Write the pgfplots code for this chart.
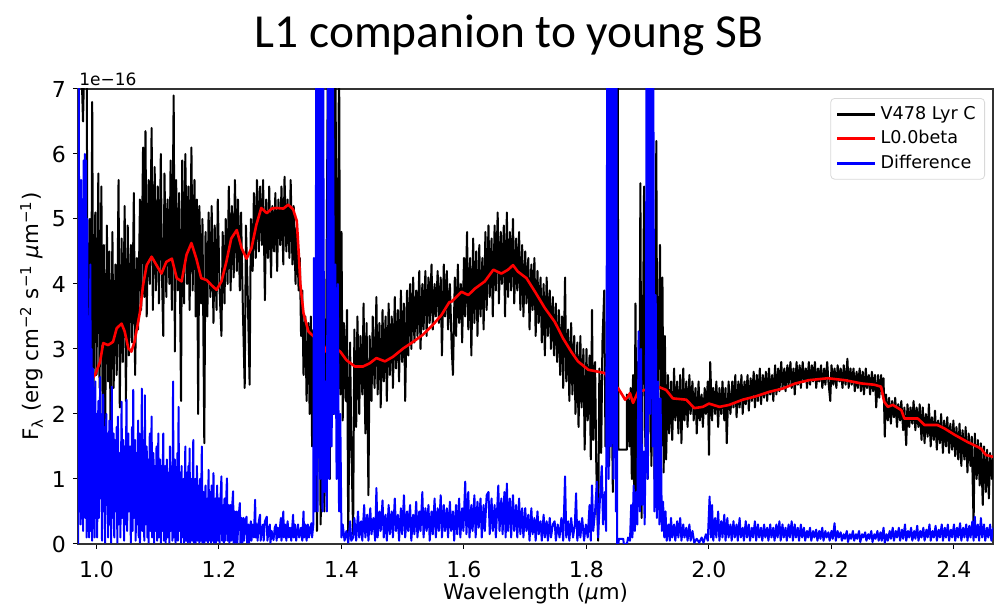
\documentclass[border=0pt]{standalone}
\usepackage{fontspec}
\setmainfont{DejaVu Sans}
\newfontfamily\titlefont{Carlito}
\usepackage{pgfplots}
\pgfplotsset{compat=1.18}
\definecolor{mplblue}{rgb}{0,0,1}
\definecolor{mplred}{rgb}{1,0,0}
\begin{document}
\begin{tikzpicture}
\path[use as bounding box] (-39pt,-32.5pt) rectangle (465pt,272pt);
\begin{axis}[
  at={(0pt,0pt)}, anchor=south west,
  scale only axis, width=457.5pt, height=227.5pt,
  xmin=0.9698, xmax=2.4637, ymin=0, ymax=7,
  xtick={1.0,1.2,1.4,1.6,1.8,2.0,2.2,2.4},
  xticklabels={1.0,1.2,1.4,1.6,1.8,2.0,2.2,2.4},
  ytick={0,1,2,3,4,5,6,7},
  yticklabels={0,1,2,3,4,5,6,7},
  tick pos=left, tick align=outside,
  major tick length=2.5pt,
  tick style={black, line width=0.5pt},
  axis line style={black!80, line width=0.55pt},
  tick label style={font=\fontsize{11}{13}\selectfont},
  xticklabel style={yshift=-2.7pt},
  /pgf/number format/assume math mode=true,
  legend style={at={(0.9913,0.9802)}, anchor=north east, draw=black!15,
    rounded corners=2pt, fill=white, font=\fontsize{8.8}{10.5}\selectfont,
    inner xsep=2.5pt, inner ysep=2pt},
  legend cell align=left,
  legend image code/.code={\draw[#1, line width=1.5pt] (0pt,0pt) -- (19pt,0pt);},
  every axis plot/.append style={line join=round},
]
% V478 Lyr C
\addplot[black, line width=1pt] coordinates {
(0.970,7.8) (0.974,7.8) (0.978,6.5) (0.981,7.8) (0.984,7.8) (0.985,4.3) (0.986,1.8) (0.989,5.0) (0.991,2.3) (0.993,6.8) (0.995,2.2) (0.998,5.1) (1.000,2.6) (1.003,5.7) (1.005,2.4) (1.008,5.5) (1.010,2.0) (1.012,4.6) (1.014,1.6) (1.017,4.9) (1.019,2.5)
(1.021,4.5) (1.023,1.6) (1.026,4.8) (1.028,2.4) (1.031,4.3) (1.033,2.6) (1.036,5.6) (1.038,2.1) (1.041,4.7) (1.043,2.8) (1.046,5.2) (1.048,2.2) (1.051,4.9) (1.053,2.9) (1.056,4.6) (1.058,3.1) (1.061,5.4) (1.063,2.6) (1.066,4.4) (1.068,3.3) (1.071,5.3) (1.073,3.6)
(1.076,6.1) (1.078,3.8) (1.080,6.35) (1.082,3.5) (1.085,5.6) (1.087,4.0) (1.090,6.4) (1.092,3.6) (1.095,5.8) (1.097,3.9) (1.100,5.5) (1.102,3.7) (1.105,6.0) (1.107,4.1) (1.109,3.2) (1.111,5.7) (1.114,3.8) (1.116,5.3) (1.119,4.0) (1.121,5.9) (1.123,3.6) (1.126,6.9) (1.128,2.96) (1.130,5.6)
(1.133,3.9) (1.135,5.4) (1.138,2.2) (1.140,5.9) (1.143,3.7) (1.145,6.0) (1.148,4.0) (1.150,5.5) (1.152,3.6) (1.155,6.1) (1.157,3.9) (1.160,5.6) (1.162,3.5) (1.164,5.3) (1.166,2.0) (1.168,5.2) (1.171,3.7) (1.173,5.0) (1.176,1.55) (1.178,4.8) (1.181,3.5) (1.183,5.1)
(1.186,3.8) (1.188,5.2) (1.191,3.4) (1.193,4.9) (1.196,3.6) (1.198,5.3) (1.201,3.9) (1.204,3.2) (1.206,4.8) (1.209,3.7) (1.211,5.0) (1.214,4.0) (1.216,5.5) (1.219,3.9) (1.221,5.2) (1.224,4.1) (1.226,5.6) (1.229,4.2) (1.231,5.3) (1.234,3.9) (1.236,5.1) (1.239,3.6) (1.242,2.4) (1.244,4.9) (1.247,3.8) (1.250,2.45) (1.252,5.0) (1.255,4.2) (1.257,5.4) (1.260,4.4) (1.262,5.6) (1.265,4.5) (1.267,5.5)
(1.270,4.6) (1.272,5.6) (1.275,3.75) (1.277,5.3) (1.280,4.4) (1.282,5.5) (1.285,4.1) (1.287,5.2) (1.290,4.5) (1.292,5.4) (1.295,4.2) (1.297,5.3) (1.300,4.6) (1.302,5.5) (1.305,4.3) (1.307,5.65) (1.310,4.5) (1.312,5.3) (1.315,4.4) (1.317,5.6) (1.320,4.3) (1.322,5.2) (1.325,4.0) (1.327,4.9)
(1.330,3.9) (1.332,4.4) (1.334,3.2) (1.336,3.9) (1.338,2.6) (1.341,3.5) (1.343,2.2) (1.346,3.4) (1.348,2.0) (1.350,3.5) (1.352,1.5) (1.354,3.3) (1.356,0.8)
(1.358,2.8) (1.360,0.2) (1.363,3.5) (1.366,0.3) (1.369,3.0) (1.372,0.5) (1.375,3.3) (1.378,7.8) (1.381,1.0) (1.384,7.8) (1.387,2.0) (1.390,7.8) (1.393,1.5) (1.396,7.8) (1.398,2.3) (1.400,4.8)
(1.402,1.9) (1.404,3.4) (1.407,2.2) (1.409,3.6) (1.411,0.05) (1.414,3.1) (1.416,1.6) (1.419,0.15) (1.421,3.3) (1.424,1.8) (1.426,3.5) (1.429,2.0) (1.431,3.2) (1.434,2.3) (1.436,3.7) (1.439,1.7) (1.441,3.4) (1.444,0.75) (1.446,3.2)
(1.449,2.2) (1.451,3.5) (1.454,2.4) (1.457,3.8) (1.459,2.3) (1.462,3.4) (1.464,2.1) (1.467,3.6) (1.469,2.5) (1.472,3.5) (1.474,2.2) (1.477,3.7) (1.479,2.6) (1.482,3.5) (1.484,2.4) (1.487,3.8) (1.489,2.7) (1.492,3.6) (1.494,2.5) (1.497,3.9) (1.499,2.8) (1.502,3.7) (1.504,2.2) (1.507,3.9) (1.509,2.9)
(1.512,4.0) (1.514,3.0) (1.517,4.1) (1.519,3.1) (1.522,3.9) (1.524,3.2) (1.527,4.2) (1.529,3.0) (1.532,4.0) (1.534,3.3) (1.537,4.2) (1.539,3.2) (1.542,4.1) (1.544,3.4) (1.547,4.3) (1.549,3.3) (1.552,4.0) (1.554,3.5) (1.557,4.2) (1.559,3.4) (1.562,4.1) (1.564,2.9) (1.567,4.3) (1.569,3.5)
(1.572,4.2) (1.574,3.3) (1.577,4.0) (1.580,3.0) (1.582,2.6) (1.585,4.1) (1.587,3.2) (1.590,4.3) (1.592,3.4) (1.595,4.0) (1.597,3.1) (1.600,4.4)
(1.602,3.5) (1.605,4.8) (1.607,3.3) (1.610,4.4) (1.612,2.9) (1.615,4.7) (1.617,3.4) (1.620,4.5) (1.622,3.2) (1.625,4.6) (1.627,3.5) (1.630,4.4) (1.632,3.3)
(1.635,4.8) (1.637,3.6) (1.640,4.9) (1.642,3.8) (1.645,4.7) (1.647,3.5) (1.650,4.9) (1.652,3.9) (1.655,5.1) (1.657,3.7) (1.660,4.8) (1.662,4.0) (1.665,4.9) (1.667,3.5) (1.670,5.1) (1.672,3.8) (1.675,4.8) (1.677,3.9) (1.680,5.0) (1.682,3.7) (1.685,4.7) (1.687,3.9) (1.690,4.8) (1.692,3.6)
(1.695,4.6) (1.697,3.5) (1.700,4.5) (1.702,3.7) (1.705,4.4) (1.707,3.3) (1.710,4.3) (1.712,3.6) (1.715,4.4) (1.717,3.2) (1.720,4.2) (1.722,3.4) (1.725,4.1) (1.727,3.1) (1.730,4.0) (1.732,2.9) (1.735,4.1) (1.737,3.2) (1.740,3.9) (1.742,3.0) (1.745,3.8) (1.747,2.9)
(1.750,3.7) (1.752,2.8) (1.755,3.6) (1.757,2.6) (1.760,3.5) (1.762,2.4) (1.765,4.1) (1.767,2.5) (1.770,3.3) (1.772,2.2) (1.775,3.4) (1.777,2.3) (1.780,3.2) (1.782,2.0) (1.785,3.1) (1.787,1.8) (1.790,3.2) (1.792,2.1) (1.795,3.0) (1.797,1.45)
(1.800,3.0) (1.802,1.9) (1.805,2.9) (1.807,1.3) (1.809,3.6) (1.811,1.6) (1.814,2.8) (1.816,1.2) (1.819,0.05) (1.821,2.7) (1.824,1.4) (1.826,3.1) (1.829,3.9) (1.831,1.5)
(1.834,3.0) (1.837,1.2) (1.840,3.5) (1.843,0.8) (1.846,7.8) (1.849,7.8) (1.851,7.8) (1.852,1.45) (1.866,1.45) (1.866,2.3)
(1.868,2.2) (1.870,1.5) (1.872,2.4) (1.874,1.0) (1.876,2.6) (1.878,0.5) (1.880,3.7) (1.882,0.5) (1.884,2.8) (1.886,1.0) (1.888,5.55) (1.890,0.4) (1.892,3.0) (1.894,5.5) (1.896,1.5) (1.898,4.0) (1.900,1.0) (1.903,3.5) (1.906,1.2) (1.909,4.5) (1.911,1.0) (1.914,6.2) (1.916,1.1) (1.918,3.3) (1.920,4.6) (1.922,1.5) (1.924,4.1) (1.926,1.1) (1.928,3.2) (1.930,1.3)
(1.933,2.6) (1.935,1.7) (1.938,2.5) (1.940,1.6) (1.943,2.7) (1.945,1.9) (1.948,2.5) (1.950,1.7) (1.953,2.6) (1.955,1.55) (1.958,2.7) (1.960,1.9) (1.963,2.5) (1.965,1.8) (1.968,2.6) (1.970,2.0) (1.973,2.5)
(1.975,1.9) (1.978,2.4) (1.980,1.7) (1.983,2.5) (1.985,1.9) (1.988,2.3) (1.990,1.8) (1.993,2.4) (1.995,2.0) (1.998,2.5) (2.000,1.37) (2.002,2.8) (2.005,1.9) (2.007,2.4) (2.010,2.0) (2.012,2.5) (2.015,1.8) (2.017,2.4) (2.020,2.0) (2.022,2.5) (2.025,1.9) (2.027,2.4) (2.029,1.55) (2.032,2.5)
(2.035,2.0) (2.038,2.5) (2.040,2.1) (2.043,2.6) (2.045,1.95) (2.048,2.5) (2.050,2.1) (2.053,2.6) (2.055,2.0) (2.058,2.5) (2.060,2.15) (2.063,2.6) (2.065,2.05) (2.068,2.55) (2.070,2.2) (2.073,2.65) (2.075,2.1) (2.078,2.6) (2.080,2.2) (2.083,2.7) (2.085,2.15) (2.088,2.6) (2.090,2.25) (2.093,2.65) (2.095,2.2) (2.098,2.7) (2.100,2.3) (2.103,2.6) (2.105,2.2) (2.108,2.75) (2.110,2.3) (2.113,2.7)
(2.115,2.35) (2.118,2.8) (2.120,2.4) (2.123,2.7) (2.125,2.35) (2.128,2.75) (2.130,2.45) (2.133,2.8) (2.135,2.4) (2.138,2.7) (2.140,2.3) (2.143,2.8) (2.145,2.45) (2.148,2.75) (2.150,2.4) (2.153,2.8) (2.155,2.5) (2.158,2.7) (2.160,2.4) (2.163,2.8) (2.165,2.45) (2.168,2.75) (2.170,2.5) (2.173,2.8) (2.175,2.4) (2.178,2.7) (2.180,2.5) (2.183,2.75) (2.185,2.4) (2.188,2.7) (2.190,2.45) (2.193,2.8) (2.195,2.5) (2.198,2.2) (2.200,2.75) (2.203,2.45) (2.205,2.7) (2.208,2.4) (2.210,2.75) (2.213,2.5) (2.215,2.7) (2.218,2.4) (2.220,2.75) (2.223,2.45) (2.226,2.85) (2.228,2.4) (2.231,2.7) (2.233,2.45) (2.236,2.7) (2.238,2.35) (2.241,2.65) (2.243,2.4) (2.246,2.7) (2.248,2.35) (2.251,2.65) (2.253,2.3) (2.256,2.7) (2.258,2.4) (2.261,2.6) (2.263,2.3) (2.266,2.65) (2.268,2.35) (2.271,2.6) (2.273,2.1) (2.276,2.6) (2.278,2.25) (2.281,2.6) (2.283,2.3) (2.285,2.55)
(2.287,1.65) (2.289,2.3) (2.292,1.9) (2.294,2.25) (2.297,1.85) (2.299,2.2) (2.302,1.95) (2.304,2.25) (2.307,1.8) (2.309,2.15) (2.312,1.9) (2.314,2.2) (2.317,1.75) (2.319,2.1) (2.322,1.52) (2.324,2.15) (2.327,1.8) (2.329,2.1) (2.332,1.85) (2.334,2.2) (2.337,1.75) (2.339,2.1) (2.342,1.8) (2.344,2.15)
(2.347,1.6) (2.349,2.1) (2.352,1.55) (2.354,2.0) (2.357,1.65) (2.359,2.15) (2.362,1.5) (2.364,1.95) (2.367,1.6) (2.369,2.05) (2.372,1.45) (2.374,1.9) (2.377,1.55) (2.379,2.0) (2.382,1.4) (2.384,1.9) (2.387,1.5) (2.389,1.95) (2.392,1.4) (2.394,1.85) (2.397,1.45) (2.399,1.9) (2.402,1.35) (2.404,1.8)
(2.407,1.3) (2.409,1.85) (2.412,1.2) (2.414,1.75) (2.417,1.3) (2.419,1.8) (2.422,1.1) (2.424,1.7) (2.427,1.2) (2.429,1.65) (2.432,0.3) (2.434,1.7) (2.437,1.0) (2.439,1.6) (2.442,0.9) (2.444,1.55) (2.447,0.6) (2.449,1.5) (2.452,0.8) (2.454,1.45) (2.457,0.7) (2.459,1.4) (2.462,1.0) (2.464,1.35)
};
\addlegendentry{V478 Lyr C}
% L0.0beta template
\addplot[mplred, line width=1.3pt] coordinates {
(0.993,2.55) (0.9976,2.60) (1.0057,2.80) (1.011,3.09) (1.019,3.06) (1.027,3.11) (1.033,3.32) (1.041,3.39) (1.046,3.27) (1.052,3.01) (1.057,2.96) (1.062,3.11) (1.071,3.57) (1.076,3.98) (1.082,4.29) (1.090,4.42) (1.098,4.29) (1.106,4.16) (1.114,4.34) (1.123,4.39) (1.131,4.09) (1.139,4.04) (1.147,4.45) (1.155,4.63) (1.163,4.39) (1.171,4.09) (1.180,4.06) (1.188,3.98) (1.196,3.91) (1.204,4.04) (1.212,4.34) (1.220,4.70) (1.229,4.83) (1.237,4.55) (1.245,4.39) (1.253,4.55) (1.261,4.91)
(1.269,5.17) (1.278,5.09) (1.286,5.16) (1.294,5.17) (1.305,5.16) (1.313,5.22) (1.321,5.15) (1.327,4.97) (1.330,4.50) (1.333,3.98) (1.338,3.55) (1.346,3.27) (1.357,3.17) (1.365,3.14) (1.373,2.96) (1.378,3.09) (1.398,2.96) (1.408,2.83) (1.422,2.73) (1.435,2.73) (1.446,2.78) (1.457,2.86) (1.471,2.81) (1.484,2.88) (1.501,3.01) (1.517,3.11) (1.533,3.22) (1.549,3.37) (1.563,3.52) (1.576,3.72)
(1.580,3.73) (1.596,3.88) (1.607,3.83) (1.618,3.93) (1.634,4.04) (1.648,4.22) (1.661,4.16) (1.672,4.22) (1.680,4.29) (1.688,4.19) (1.702,4.09) (1.716,3.88) (1.732,3.63) (1.748,3.42) (1.762,3.16) (1.775,2.96) (1.786,2.81) (1.803,2.68) (1.819,2.65) (1.830,2.63) (1.835,2.55) (1.852,2.39) (1.860,2.27) (1.863,2.22) (1.868,2.27) (1.871,2.32) (1.876,2.17) (1.884,2.34)
(1.903,2.39) (1.917,2.42) (1.930,2.37) (1.941,2.24) (1.963,2.22) (1.976,2.09) (1.990,2.11) (2.000,2.16) (2.017,2.11) (2.033,2.14) (2.055,2.22) (2.076,2.27) (2.098,2.34) (2.120,2.39) (2.141,2.47) (2.163,2.52) (2.194,2.55) (2.222,2.52) (2.249,2.47) (2.270,2.45) (2.281,2.42) (2.286,2.19) (2.292,2.11) (2.300,2.14) (2.314,2.06) (2.319,1.93) (2.341,1.93) (2.352,1.83) (2.373,1.83) (2.384,1.78) (2.401,1.68) (2.422,1.57) (2.444,1.47) (2.452,1.37) (2.464,1.34)
};
\addlegendentry{L0.0beta}
% Difference
\addplot[mplblue, line width=1pt] coordinates {
(0.970,0) (0.9702,7.8) (0.9712,7.8) (0.972,0.5) (0.973,5.4) (0.974,0.3) (0.975,5.6) (0.976,0.8) (0.977,5.3) (0.978,0.2) (0.979,5.9) (0.980,1.0) (0.981,6.0) (0.982,0.4) (0.983,5.9) (0.984,0.1) (0.985,5.0) (0.986,0.2) (0.987,3.5) (0.988,0.1) (0.989,3.2) (0.990,4.3) (0.991,0.2) (0.992,3.0) (0.993,0.05) (0.994,2.7) (0.995,0.3) (0.996,2.2) (0.997,0.1) (0.998,2.5) (0.999,0.4)
(1.000,2.0) (1.001,0.1) (1.003,2.2) (1.004,0.4) (1.006,2.57) (1.007,0.7) (1.008,2.0) (1.009,0.05) (1.011,2.3) (1.012,0.5) (1.013,1.8) (1.014,0.02) (1.016,2.0) (1.017,0.6) (1.018,1.7) (1.019,0.1) (1.021,1.9) (1.022,0.3) (1.023,1.5) (1.024,0.02) (1.025,2.42) (1.026,0.4) (1.028,1.7) (1.029,0.1) (1.030,1.6) (1.031,0.5) (1.033,1.8) (1.034,0.02) (1.035,1.96) (1.036,0.3) (1.038,1.4) (1.039,0.1) (1.041,2.19) (1.042,0.4) (1.044,1.6) (1.045,0.05) (1.046,1.5) (1.047,0.3) (1.049,2.22)
(1.050,0.2) (1.052,1.7) (1.053,0.5) (1.055,1.5) (1.056,0.02) (1.058,1.8) (1.059,0.2) (1.060,2.37) (1.061,0.4) (1.063,1.6) (1.064,0.05) (1.065,1.4) (1.066,0.3) (1.068,1.9) (1.069,0.1) (1.070,1.7) (1.071,0.02) (1.072,1.5) (1.073,0.3) (1.074,2.39) (1.075,0.2) (1.077,1.6) (1.078,0.05) (1.079,2.29) (1.080,0.3) (1.082,1.5) (1.083,0.1) (1.084,1.3) (1.085,0.02) (1.087,1.7) (1.088,0.2) (1.090,1.96) (1.091,0.1) (1.093,1.4) (1.094,0.02) (1.095,1.2) (1.096,0.2) (1.098,1.5) (1.099,0.05)
(1.101,1.70) (1.102,0.1) (1.104,1.3) (1.105,0.02) (1.106,1.2) (1.107,0.2) (1.109,1.70) (1.110,0.05) (1.112,1.2) (1.113,0.02) (1.115,1.3) (1.116,0.1) (1.118,1.1) (1.119,0.02) (1.120,1.5) (1.121,0.2) (1.123,1.2) (1.124,0.05) (1.125,2.50) (1.126,0.1) (1.128,1.3) (1.129,0.02) (1.130,1.1) (1.131,0.1) (1.132,1.4) (1.133,0.05) (1.134,2.11) (1.135,0.2) (1.137,1.1) (1.138,0.02) (1.139,1.2) (1.140,0.1) (1.142,1.0) (1.143,0.02) (1.145,1.50) (1.146,0.05) (1.148,1.1) (1.149,0.02)
(1.150,1.2) (1.151,0.1) (1.152,1.47) (1.153,0.02) (1.155,1.0) (1.156,0.05) (1.158,1.6) (1.159,0.02) (1.161,1.0) (1.162,0.02) (1.164,1.2) (1.165,0.05) (1.167,0.9) (1.168,0.02) (1.169,1.0) (1.170,0.05) (1.172,1.50) (1.173,0.02) (1.175,0.8) (1.176,0.02) (1.178,0.9) (1.179,0.05) (1.181,0.7) (1.182,0.02) (1.183,1.14) (1.184,0.05) (1.186,0.8) (1.187,0.02) (1.188,0.9) (1.189,0.05) (1.191,1.09) (1.192,0.02) (1.194,0.7) (1.195,0.02) (1.197,0.9) (1.198,0.05)
(1.200,0.7) (1.201,0.02) (1.202,0.6) (1.204,1.04) (1.205,0.05) (1.207,0.6) (1.208,0.02) (1.209,0.7) (1.210,0.05) (1.211,0.5) (1.213,1.01) (1.214,0.05) (1.216,0.6) (1.217,0.02) (1.219,0.6) (1.220,0.05) (1.221,0.5) (1.223,0.81) (1.224,0.02) (1.226,0.5) (1.227,0.02) (1.229,0.5) (1.230,0.02) (1.232,0.4) (1.234,0.63) (1.235,0.02) (1.237,0.4) (1.238,0.02) (1.240,0.4) (1.241,0.05) (1.243,0.35) (1.245,0.42) (1.246,0.02) (1.248,0.3) (1.249,0.02)
(1.252,0.35) (1.253,0.05) (1.255,0.3) (1.257,0.1) (1.259,0.68) (1.260,0.1) (1.262,0.3) (1.263,0.05) (1.265,0.35) (1.267,0.45) (1.268,0.05) (1.270,0.2) (1.272,0.3) (1.273,0.05) (1.275,0.35) (1.278,0.42) (1.279,0.05) (1.281,0.2) (1.283,0.3) (1.284,0.02) (1.286,0.2) (1.289,0.06) (1.291,0.25) (1.293,0.3) (1.294,0.05) (1.296,0.25) (1.298,0.1)
(1.301,0.4) (1.302,0.05) (1.305,0.50) (1.306,0.1) (1.308,0.3) (1.310,0.05) (1.312,0.35) (1.314,0.1) (1.316,0.25) (1.318,0.05) (1.321,0.45) (1.322,0.1) (1.324,0.3) (1.326,0.05) (1.329,0.3) (1.331,0.1) (1.334,0.25) (1.336,0.05) (1.338,0.50) (1.339,0.1) (1.341,0.3) (1.343,0.05) (1.345,0.3) (1.347,0.1) (1.349,0.25) (1.351,0.32) (1.352,0.1)
(1.354,0.3) (1.355,4.4) (1.357,0.5) (1.359,7.8) (1.361,0.5) (1.363,7.8) (1.365,1.0) (1.367,7.8) (1.369,0.5) (1.370,7.8) (1.372,0.8) (1.374,2.5) (1.376,0.5) (1.378,7.8) (1.380,1.0) (1.382,7.8) (1.384,1.5) (1.386,7.8) (1.388,2.0) (1.390,4.3) (1.392,1.0) (1.394,4.0) (1.396,0.5) (1.398,2.0) (1.400,0.1)
(1.402,0.3) (1.405,0.05) (1.408,0.2) (1.411,0.02) (1.414,0.35) (1.416,0.05) (1.419,0.1) (1.421,0.4) (1.424,0.05) (1.427,0.5) (1.429,0.1) (1.432,0.35) (1.434,0.05) (1.437,0.6) (1.439,0.1) (1.442,0.45) (1.444,0.05) (1.447,0.55) (1.449,0.15) (1.452,0.4) (1.455,0.05) (1.457,0.86) (1.459,0.1) (1.462,0.5) (1.464,0.2) (1.467,0.67) (1.469,0.1) (1.472,0.45) (1.474,0.05) (1.477,0.6) (1.479,0.15) (1.482,0.5) (1.484,0.1) (1.487,0.7) (1.489,0.2) (1.492,0.45) (1.494,0.05) (1.497,0.55) (1.499,0.15)
(1.502,0.75) (1.504,0.1) (1.507,0.5) (1.509,0.2) (1.512,0.6) (1.514,0.05) (1.517,0.45) (1.519,0.15) (1.522,0.65) (1.524,0.1) (1.527,0.5) (1.529,0.2) (1.532,0.8) (1.534,0.1) (1.537,0.55) (1.539,0.2) (1.542,0.6) (1.544,0.05) (1.547,0.5) (1.549,0.15) (1.552,0.7) (1.554,0.1) (1.557,0.55) (1.559,0.2) (1.562,0.75) (1.564,0.1) (1.567,0.6) (1.569,0.2) (1.572,0.55) (1.574,0.1) (1.577,0.65) (1.579,0.2) (1.582,0.5) (1.584,0.05) (1.587,0.6) (1.589,0.15) (1.592,0.7) (1.594,0.1) (1.597,0.55) (1.599,0.2)
(1.602,0.96) (1.604,0.15) (1.607,0.8) (1.609,0.1) (1.612,0.6) (1.614,0.2) (1.617,0.75) (1.619,0.1) (1.622,0.65) (1.624,0.25) (1.627,0.7) (1.629,0.1) (1.632,0.6) (1.634,0.2) (1.637,0.75) (1.640,0.8) (1.642,0.15) (1.645,0.7) (1.647,0.2) (1.650,0.6) (1.652,0.1) (1.656,0.9) (1.658,0.2) (1.661,0.7) (1.663,0.15) (1.666,0.8) (1.668,0.1) (1.670,0.93) (1.672,0.2) (1.675,0.7) (1.677,0.1) (1.680,0.75) (1.682,0.2) (1.685,0.6) (1.687,0.1) (1.690,0.7) (1.692,0.15) (1.695,0.55) (1.697,0.1)
(1.700,0.55) (1.702,0.2) (1.705,0.45) (1.707,0.05) (1.710,0.55) (1.712,0.15) (1.715,0.4) (1.717,0.05) (1.720,0.5) (1.722,0.15) (1.725,0.35) (1.727,0.05) (1.730,0.45) (1.732,0.1) (1.735,0.35) (1.737,0.05) (1.740,0.4) (1.742,0.1) (1.745,0.3) (1.748,0.35) (1.750,0.05) (1.753,0.3) (1.756,0.1) (1.759,0.4) (1.762,0.05) (1.765,1.04) (1.767,0.1) (1.770,0.35) (1.772,0.05) (1.775,0.4) (1.778,0.1) (1.781,0.3) (1.783,0.78) (1.785,0.05) (1.788,0.35) (1.790,0.1) (1.793,0.4) (1.796,0.05) (1.799,0.3)
(1.802,0.1) (1.805,0.6) (1.807,0.05) (1.809,0.9) (1.811,0.2) (1.814,0.5) (1.817,0.96) (1.819,0.1) (1.822,0.7) (1.825,1.2) (1.827,0.3) (1.830,0.8) (1.832,0.2) (1.834,7.8) (1.836,1.0) (1.838,7.8) (1.840,1.5) (1.842,7.8) (1.844,1.0) (1.846,7.8) (1.848,0.5) (1.849,7.8) (1.850,0.0) (1.852,0.0) (1.853,0.08) (1.860,0.08) (1.861,0.0) (1.866,0.0)
(1.868,0.1) (1.871,0.05) (1.873,0.6) (1.875,0.1) (1.877,0.9) (1.879,0.2) (1.881,0.8) (1.883,0.3) (1.885,3.27) (1.887,0.5) (1.889,3.0) (1.891,0.6) (1.893,1.42) (1.895,0.3) (1.897,2.0) (1.898,7.8) (1.900,1.0) (1.902,7.8) (1.904,2.0) (1.906,7.8) (1.908,1.5) (1.909,7.8) (1.911,0.5) (1.913,3.83) (1.915,0.4) (1.917,2.5) (1.919,0.3) (1.921,2.24) (1.923,0.2) (1.925,0.65) (1.927,0.1) (1.929,0.5)
(1.931,0.05) (1.934,0.3) (1.936,0.05) (1.938,0.4) (1.940,0.1) (1.943,0.3) (1.945,0.05) (1.948,0.35) (1.950,0.1) (1.953,0.4) (1.955,0.05) (1.958,0.3) (1.960,0.1) (1.963,0.25) (1.965,0.05) (1.968,0.3) (1.970,0.05) (1.973,0.2) (1.976,0.02) (1.980,0.08) (1.984,0.02) (1.988,0.1) (1.991,0.02) (1.995,0.15) (1.998,0.05)
(2.001,0.73) (2.003,0.1) (2.005,0.6) (2.007,0.05) (2.010,0.4) (2.012,0.1) (2.015,0.5) (2.017,0.05) (2.020,0.35) (2.022,0.1) (2.025,0.45) (2.027,0.05) (2.030,0.4) (2.032,0.1) (2.035,0.3) (2.037,0.05) (2.040,0.35) (2.042,0.1) (2.045,0.3) (2.047,0.05) (2.050,0.4) (2.052,0.1) (2.055,0.25) (2.057,0.05) (2.060,0.35) (2.062,0.1) (2.065,0.3) (2.067,0.05) (2.070,0.25) (2.072,0.1) (2.075,0.35) (2.077,0.05) (2.080,0.3) (2.082,0.1) (2.085,0.25) (2.087,0.05) (2.090,0.3) (2.092,0.1) (2.095,0.25) (2.097,0.05)
(2.100,0.3) (2.102,0.1) (2.105,0.25) (2.107,0.05) (2.110,0.3) (2.112,0.1) (2.115,0.35) (2.117,0.05) (2.120,0.3) (2.122,0.1) (2.125,0.25) (2.127,0.05) (2.130,0.3) (2.132,0.1) (2.135,0.35) (2.137,0.05) (2.140,0.3) (2.142,0.1) (2.145,0.25) (2.147,0.05) (2.150,0.3) (2.152,0.1) (2.155,0.25) (2.157,0.05) (2.160,0.2) (2.162,0.1) (2.165,0.25) (2.167,0.05) (2.170,0.2) (2.172,0.1) (2.175,0.22) (2.177,0.05) (2.180,0.2) (2.182,0.08) (2.185,0.25) (2.187,0.05) (2.190,0.2) (2.192,0.1) (2.195,0.18) (2.197,0.05)
(2.200,0.2) (2.202,0.08) (2.205,0.32) (2.207,0.05) (2.210,0.2) (2.212,0.1) (2.215,0.18) (2.217,0.05) (2.220,0.15) (2.222,0.08) (2.225,0.2) (2.227,0.03) (2.230,0.15) (2.232,0.08) (2.235,0.2) (2.237,0.05) (2.240,0.15) (2.242,0.08) (2.245,0.2) (2.247,0.03) (2.250,0.15) (2.252,0.1) (2.255,0.18) (2.257,0.05) (2.260,0.15) (2.262,0.08) (2.265,0.2) (2.267,0.03) (2.270,0.15) (2.272,0.08) (2.275,0.2) (2.277,0.05) (2.280,0.18) (2.282,0.05) (2.285,0.25) (2.287,0.02) (2.290,0.15) (2.292,0.05) (2.295,0.2) (2.297,0.08)
(2.300,0.25) (2.302,0.05) (2.305,0.2) (2.307,0.1) (2.310,0.25) (2.312,0.05) (2.315,0.22) (2.317,0.08) (2.320,0.3) (2.322,0.05) (2.325,0.2) (2.327,0.1) (2.330,0.25) (2.332,0.05) (2.335,0.2) (2.337,0.08) (2.340,0.28) (2.342,0.05) (2.345,0.2) (2.347,0.1) (2.350,0.25) (2.352,0.05) (2.355,0.22) (2.357,0.1) (2.360,0.3) (2.362,0.05) (2.365,0.2) (2.367,0.1) (2.370,0.28) (2.372,0.05) (2.375,0.22) (2.377,0.1) (2.380,0.3) (2.382,0.05) (2.385,0.25) (2.387,0.1) (2.390,0.3) (2.392,0.05) (2.395,0.22) (2.397,0.1)
(2.400,0.3) (2.402,0.05) (2.405,0.25) (2.407,0.1) (2.410,0.32) (2.412,0.05) (2.415,0.25) (2.417,0.1) (2.420,0.3) (2.422,0.05) (2.425,0.28) (2.427,0.1) (2.430,0.35) (2.432,0.05) (2.434,0.42) (2.436,0.1) (2.439,0.3) (2.441,0.05) (2.444,0.4) (2.446,0.1) (2.449,0.3) (2.451,0.05) (2.454,0.25) (2.456,0.1) (2.459,0.3) (2.461,0.05) (2.464,0.25)
};
\addlegendentry{Difference}
\end{axis}
\node[anchor=base, inner sep=0pt, font=\titlefont\fontsize{23.7}{28}\selectfont] at (215.5pt,248pt) {L1 companion to young SB};
\node[anchor=base, rotate=90, inner sep=0pt, font=\fontsize{10.7}{13}\selectfont] at (-19.5pt,113.75pt) {F\textsubscript{λ} (erg cm\textsuperscript{−2} s\textsuperscript{−1} \textit{μ}m\textsuperscript{−1})};
\node[anchor=base, inner sep=0pt, font=\fontsize{10.7}{13}\selectfont] at (228.75pt,-28pt) {Wavelength (\textit{μ}m)};
\node[anchor=base west, inner sep=0pt, font=\fontsize{8.5}{10}\selectfont] at (0.5pt,229pt) {1e−16};
\end{tikzpicture}
\end{document}
